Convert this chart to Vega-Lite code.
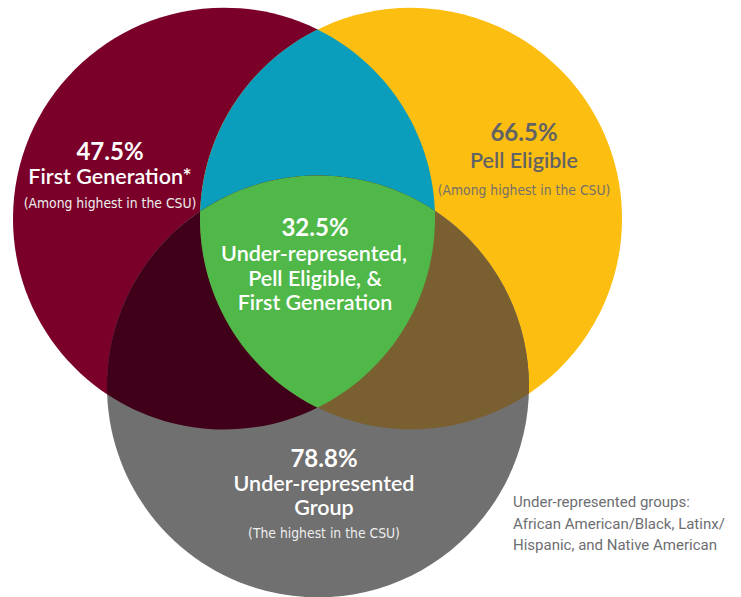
{
  "$schema": "https://vega.github.io/schema/vega-lite/v6.json",
  "width": 741,
  "height": 597,
  "autosize": {"type": "fit", "contains": "padding"},
  "padding": 0,
  "background": "white",
  "config": {"view": {"stroke": null}},
  "datasets": {
    "regions": [
      {"region": "First Generation", "x": 224, "y": 219},
      {"region": "Pell Eligible", "x": 411, "y": 219},
      {"region": "Under-represented Group", "x": 318, "y": 387},
      {"region": "First Generation & Pell Eligible", "x": 317.5, "y": 219},
      {"region": "First Generation & Under-represented", "x": 271, "y": 303},
      {"region": "Pell Eligible & Under-represented", "x": 364.5, "y": 303},
      {"region": "All three", "x": 317.5, "y": 277}
    ],
    "labels": [
      {"text": "47.5%", "kind": "pct", "set": "First", "x": 110, "y": 160},
      {"text": "First Generation*", "kind": "name", "set": "First", "x": 110, "y": 184},
      {"text": "(Among highest in the CSU)", "kind": "note", "set": "First", "x": 110, "y": 208},
      {"text": "66.5%", "kind": "pct", "set": "Pell", "x": 524, "y": 141},
      {"text": "Pell Eligible", "kind": "name", "set": "Pell", "x": 524, "y": 168},
      {"text": "(Among highest in the CSU)", "kind": "note", "set": "Pell", "x": 524, "y": 195},
      {"text": "32.5%", "kind": "pct", "set": "All", "x": 315, "y": 236},
      {"text": "Under-represented,", "kind": "name", "set": "All", "x": 314, "y": 261},
      {"text": "Pell Eligible, &", "kind": "name", "set": "All", "x": 315, "y": 286},
      {"text": "First Generation", "kind": "name", "set": "All", "x": 315, "y": 311},
      {"text": "78.8%", "kind": "pct", "set": "URM", "x": 324, "y": 468},
      {"text": "Under-represented", "kind": "name", "set": "URM", "x": 324, "y": 492},
      {"text": "Group", "kind": "name", "set": "URM", "x": 324, "y": 516},
      {"text": "(The highest in the CSU)", "kind": "note", "set": "URM", "x": 324, "y": 539},
      {"text": "Under-represented groups:", "kind": "foot", "set": "Foot", "x": 513, "y": 508},
      {"text": "African American/Black, Latinx/", "kind": "foot", "set": "Foot", "x": 513, "y": 529.5},
      {"text": "Hispanic, and Native American", "kind": "foot", "set": "Foot", "x": 513, "y": 551}
    ]
  },
  "layer": [
    {
      "data": {"name": "regions"},
      "mark": {"type": "point", "filled": true, "opacity": 1, "size": 4, "strokeWidth": 0},
      "encoding": {
        "x": {"field": "x", "type": "quantitative", "scale": {"domain": [0, 741], "nice": false, "zero": false}, "axis": null},
        "y": {"field": "y", "type": "quantitative", "scale": {"domain": [0, 597], "nice": false, "zero": false, "reverse": true}, "axis": null},
        "color": {
          "field": "region", "type": "nominal", "legend": null,
          "scale": {
            "domain": ["First Generation", "Pell Eligible", "Under-represented Group", "First Generation & Pell Eligible", "First Generation & Under-represented", "Pell Eligible & Under-represented", "All three"],
            "range": ["#7a0029", "#fdbe12", "#707070", "#0a9dbc", "#40001a", "#7a5f31", "#4fb848"]
          }
        },
        "shape": {
          "field": "region", "type": "nominal", "legend": null,
          "scale": {
            "domain": ["First Generation", "Pell Eligible", "Under-represented Group", "First Generation & Pell Eligible", "First Generation & Under-represented", "Pell Eligible & Under-represented", "All three"],
            "range": [
              "M -211 0 A 211 211 0 1 1 211 0 A 211 211 0 1 1 -211 0 Z",
              "M -211 0 A 211 211 0 1 1 211 0 A 211 211 0 1 1 -211 0 Z",
              "M -211 0 A 211 211 0 1 1 211 0 A 211 211 0 1 1 -211 0 Z",
              "M 0 -189.15 A 211 211 0 0 1 0 189.15 A 211 211 0 0 1 0 -189.15 Z",
              "M -163.86 91.68 A 211 211 0 0 1 163.86 -91.68 A 211 211 0 0 1 -163.86 91.68 Z",
              "M 164.39 91 A 211 211 0 0 1 -164.39 -91 A 211 211 0 0 1 164.39 91 Z",
              "M -117.39 -65 A 211 211 0 0 1 117.36 -65.68 A 211 211 0 0 1 0 131.15 A 211 211 0 0 1 -117.39 -65 Z"
            ]
          }
        }
      }
    },
    {
      "data": {"name": "labels"},
      "transform": [{"filter": "datum.kind === 'pct'"}],
      "mark": {"type": "text", "font": "Lato", "fontSize": 24, "fontWeight": "bold", "align": "center", "baseline": "alphabetic"},
      "encoding": {
        "x": {"field": "x", "type": "quantitative", "scale": {"domain": [0, 741], "nice": false, "zero": false}, "axis": null},
        "y": {"field": "y", "type": "quantitative", "scale": {"domain": [0, 597], "nice": false, "zero": false, "reverse": true}, "axis": null},
        "text": {"field": "text"},
        "color": {"condition": {"test": "datum.set === 'Pell'", "value": "#626365"}, "value": "#ffffff"}
      }
    },
    {
      "data": {"name": "labels"},
      "transform": [{"filter": "datum.kind === 'name'"}],
      "mark": {"type": "text", "font": "Lato", "fontSize": 21.5, "fontWeight": 600, "align": "center", "baseline": "alphabetic"},
      "encoding": {
        "x": {"field": "x", "type": "quantitative", "scale": {"domain": [0, 741], "nice": false, "zero": false}, "axis": null},
        "y": {"field": "y", "type": "quantitative", "scale": {"domain": [0, 597], "nice": false, "zero": false, "reverse": true}, "axis": null},
        "text": {"field": "text"},
        "color": {"condition": {"test": "datum.set === 'Pell'", "value": "#626365"}, "value": "#ffffff"}
      }
    },
    {
      "data": {"name": "labels"},
      "transform": [{"filter": "datum.kind === 'note'"}],
      "mark": {"type": "text", "font": "Liberation Sans Narrow, DejaVu Sans Condensed, sans-serif", "fontSize": 13.8, "align": "center", "baseline": "alphabetic"},
      "encoding": {
        "x": {"field": "x", "type": "quantitative", "scale": {"domain": [0, 741], "nice": false, "zero": false}, "axis": null},
        "y": {"field": "y", "type": "quantitative", "scale": {"domain": [0, 597], "nice": false, "zero": false, "reverse": true}, "axis": null},
        "text": {"field": "text"},
        "color": {"condition": {"test": "datum.set === 'Pell'", "value": "#74706a"}, "value": "#eeeeee"}
      }
    },
    {
      "data": {"name": "labels"},
      "transform": [{"filter": "datum.kind === 'foot'"}],
      "mark": {"type": "text", "font": "Roboto", "fontSize": 15, "align": "left", "baseline": "alphabetic", "color": "#6d6e71"},
      "encoding": {
        "x": {"field": "x", "type": "quantitative", "scale": {"domain": [0, 741], "nice": false, "zero": false}, "axis": null},
        "y": {"field": "y", "type": "quantitative", "scale": {"domain": [0, 597], "nice": false, "zero": false, "reverse": true}, "axis": null},
        "text": {"field": "text"}
      }
    }
  ]
}
